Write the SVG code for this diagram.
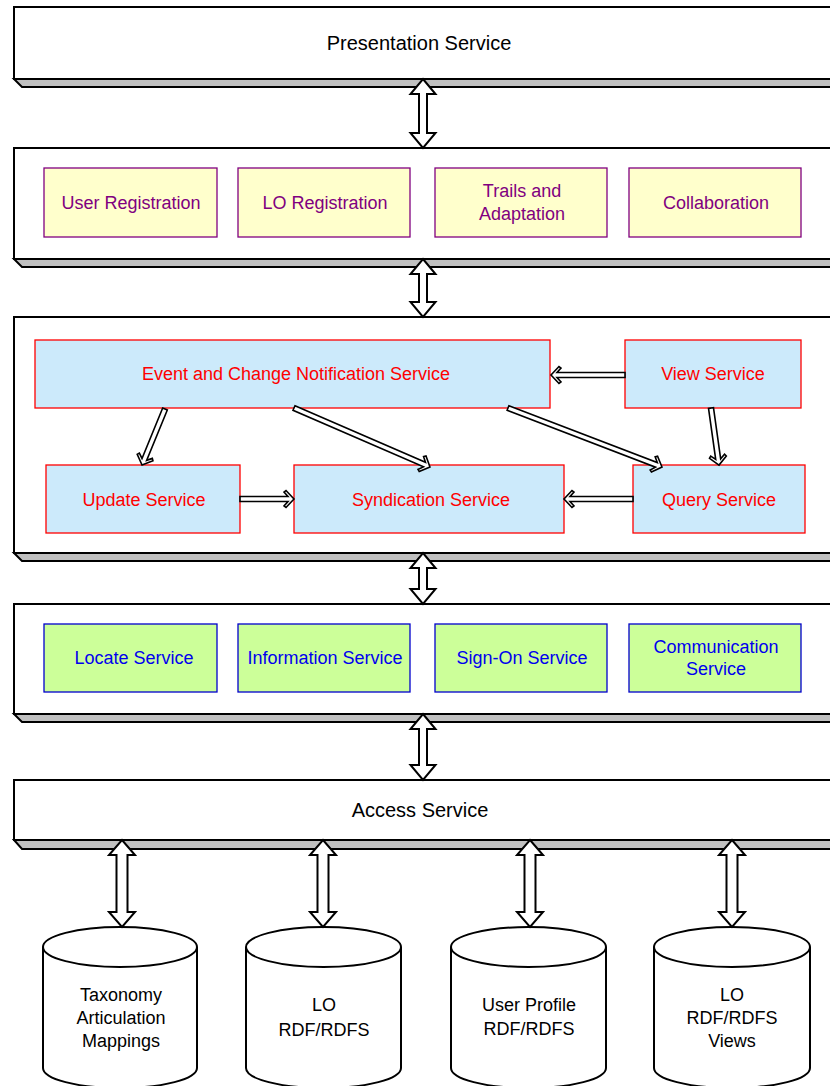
<svg xmlns="http://www.w3.org/2000/svg" width="830" height="1086" viewBox="0 0 830 1086">
<style>
.bar{fill:#ffffff;stroke:#000;stroke-width:2}
.sh{fill:#c0c0c0;stroke:#000;stroke-width:2}
.t{font-family:"Liberation Sans",Arial,sans-serif;text-anchor:middle}
.lt{font-size:20px;fill:#000}
.bx{font-size:18px}
.y{fill:#ffffcc;stroke:#800080;stroke-width:1.3}
.yt{fill:#800080}
.b{fill:#cceafb;stroke:#ff0000;stroke-width:1.3}
.bt{fill:#ff0000}
.g{fill:#ccff99;stroke:#0000cc;stroke-width:1.3}
.gt{fill:#0000ee}
.da{fill:#fff;stroke:#000;stroke-width:2;stroke-linejoin:miter}
.ha{fill:#fff;stroke:#000;stroke-width:1.6;stroke-linejoin:miter}
.cyl{fill:#fff;stroke:#000;stroke-width:2}
.ct{font-size:18px;fill:#000}
</style>

<g id="layer-presentation">
<polygon class="sh" points="14,79 842,79 842,87 22,87"/>
<rect class="bar" x="14" y="7" width="828" height="72"/>
<text class="t lt" x="419" y="50">Presentation Service</text>
</g>

<g id="layer-apps">
<polygon class="sh" points="14,259 842,259 842,267 22,267"/>
<rect class="bar" x="14" y="148" width="828" height="111"/>
</g>
<g id="user-registration"><rect class="y" x="44" y="168" width="173" height="69"/><text class="t bx yt" x="131" y="209">User Registration</text></g>
<g id="lo-registration"><rect class="y" x="238" y="168" width="172" height="69"/><text class="t bx yt" x="325" y="209">LO Registration</text></g>
<g id="trails"><rect class="y" x="435" y="168" width="172" height="69"/><text class="t bx yt" x="522" y="196.5">Trails and</text><text class="t bx yt" x="522" y="219.5">Adaptation</text></g>
<g id="collaboration"><rect class="y" x="629" y="168" width="172" height="69"/><text class="t bx yt" x="716" y="209">Collaboration</text></g>

<g id="layer-services">
<polygon class="sh" points="14,553 842,553 842,561 22,561"/>
<rect class="bar" x="14" y="317" width="828" height="236"/>
</g>
<g id="event-service"><rect class="b" x="35" y="340" width="515" height="68"/><text class="t bx bt" x="296" y="380">Event and Change Notification Service</text></g>
<g id="view-service"><rect class="b" x="625" y="340" width="176" height="68"/><text class="t bx bt" x="713" y="380">View Service</text></g>
<g id="update-service"><rect class="b" x="46" y="465" width="194" height="68"/><text class="t bx bt" x="144" y="506">Update Service</text></g>
<g id="syndication-service"><rect class="b" x="294" y="465" width="270" height="68"/><text class="t bx bt" x="431" y="506">Syndication Service</text></g>
<g id="query-service"><rect class="b" x="633" y="465" width="172" height="68"/><text class="t bx bt" x="719" y="506">Query Service</text></g>

<g id="layer-infra">
<polygon class="sh" points="14,714 842,714 842,722 22,722"/>
<rect class="bar" x="14" y="604" width="828" height="110"/>
</g>
<g id="locate-service"><rect class="g" x="44" y="624" width="173" height="68"/><text class="t bx gt" x="134" y="664">Locate Service</text></g>
<g id="information-service"><rect class="g" x="238" y="624" width="172" height="68"/><text class="t bx gt" x="325" y="664">Information Service</text></g>
<g id="signon-service"><rect class="g" x="435" y="624" width="172" height="68"/><text class="t bx gt" x="522" y="664">Sign-On Service</text></g>
<g id="communication-service"><rect class="g" x="629" y="624" width="172" height="68"/><text class="t bx gt" x="716" y="652.5">Communication</text><text class="t bx gt" x="716" y="674.5">Service</text></g>

<g id="layer-access">
<polygon class="sh" points="14,840 842,840 842,849 22,849"/>
<rect class="bar" x="14" y="780" width="828" height="60"/>
<text class="t lt" x="420" y="817">Access Service</text>
</g>

<g id="db-taxonomy">
<path class="cyl" d="M43,947 A77,20 0 0 1 197,947 L197,1068 A77,20 0 0 1 43,1068 Z M43,947 A77,20 0 0 0 197,947"/>
<text class="t ct" x="121" y="1001">Taxonomy</text><text class="t ct" x="121" y="1024">Articulation</text><text class="t ct" x="121" y="1047">Mappings</text>
</g>
<g id="db-lo">
<path class="cyl" d="M246,947 A77.5,20 0 0 1 401,947 L401,1068 A77.5,20 0 0 1 246,1068 Z M246,947 A77.5,20 0 0 0 401,947"/>
<text class="t ct" x="324" y="1011">LO</text><text class="t ct" x="324" y="1036">RDF/RDFS</text>
</g>
<g id="db-userprofile">
<path class="cyl" d="M451,947 A77.5,20 0 0 1 606,947 L606,1068 A77.5,20 0 0 1 451,1068 Z M451,947 A77.5,20 0 0 0 606,947"/>
<text class="t ct" x="529" y="1011">User Profile</text><text class="t ct" x="529" y="1035">RDF/RDFS</text>
</g>
<g id="db-views">
<path class="cyl" d="M654,947 A78,20 0 0 1 810,947 L810,1068 A78,20 0 0 1 654,1068 Z M654,947 A78,20 0 0 0 810,947"/>
<text class="t ct" x="732" y="1001">LO</text><text class="t ct" x="732" y="1024">RDF/RDFS</text><text class="t ct" x="732" y="1047">Views</text>
</g>

<g id="connectors">
<!-- layer double arrows -->
<polygon class="da" points="423,79 435.5,94 427,94 427,133 435.5,133 423,148 410.5,133 419,133 419,94 410.5,94"/>
<polygon class="da" points="423,259 435.5,274 427,274 427,302 435.5,302 423,317 410.5,302 419,302 419,274 410.5,274"/>
<polygon class="da" points="423,553 435.5,568 427,568 427,589 435.5,589 423,604 410.5,589 419,589 419,568 410.5,568"/>
<polygon class="da" points="423,714 435.5,729 427,729 427,765 435.5,765 423,780 410.5,765 419,765 419,729 410.5,729"/>
<!-- access to databases -->
<polygon class="da" points="122,840 135,855 127.5,855 127.5,912 135,912 122,927 109,912 116.5,912 116.5,855 109,855"/>
<polygon class="da" points="323,840 336,855 328.5,855 328.5,912 336,912 323,927 310,912 317.5,912 317.5,855 310,855"/>
<polygon class="da" points="530,840 543,855 535.5,855 535.5,912 543,912 530,927 517,912 524.5,912 524.5,855 517,855"/>
<polygon class="da" points="732,840 745,855 737.5,855 737.5,912 745,912 732,927 719,912 726.5,912 726.5,855 719,855"/>
<!-- hollow single arrows -->
<polygon class="ha" transform="translate(625,375) rotate(180)" points="0,-2.5 68,-2.5 64,-7 66,-8.5 74,0 66,8.5 64,7 68,2.5 0,2.5"/>
<polygon class="ha" transform="translate(165,409) rotate(112.3)" points="0,-2.5 54.5,-2.5 50.5,-7 52.5,-8.5 60.5,0 52.5,8.5 50.5,7 54.5,2.5 0,2.5"/>
<polygon class="ha" transform="translate(294,408) rotate(23.45)" points="0,-2.5 142.2,-2.5 138.2,-7 140.2,-8.5 148.2,0 140.2,8.5 138.2,7 142.2,2.5 0,2.5"/>
<polygon class="ha" transform="translate(508,408) rotate(20.96)" points="0,-2.5 158.9,-2.5 154.9,-7 156.9,-8.5 164.9,0 156.9,8.5 154.9,7 158.9,2.5 0,2.5"/>
<polygon class="ha" transform="translate(711,408) rotate(82)" points="0,-2.5 51.6,-2.5 47.6,-7 49.6,-8.5 57.6,0 49.6,8.5 47.6,7 51.6,2.5 0,2.5"/>
<polygon class="ha" transform="translate(240,499) rotate(0)" points="0,-2.5 48,-2.5 44,-7 46,-8.5 54,0 46,8.5 44,7 48,2.5 0,2.5"/>
<polygon class="ha" transform="translate(633,499) rotate(180)" points="0,-2.5 63,-2.5 59,-7 61,-8.5 69,0 61,8.5 59,7 63,2.5 0,2.5"/>
</g>
</svg>
